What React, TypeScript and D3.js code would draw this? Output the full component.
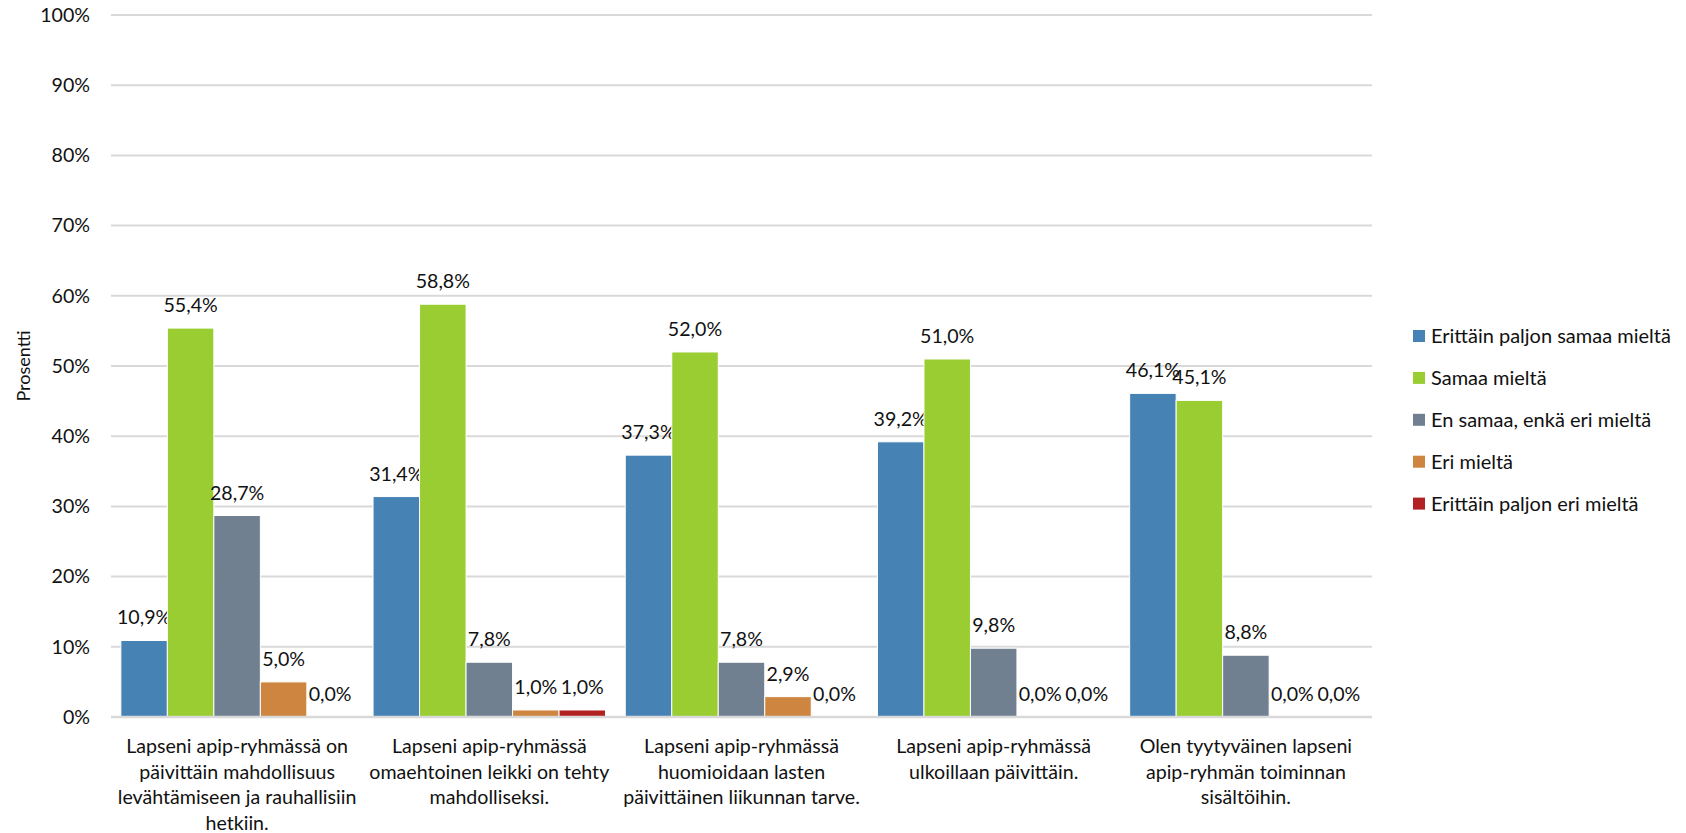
import React from 'react';
import * as d3 from 'd3';

// Statements (already wrapped as in the source chart)
const categories: string[][] = [
  ['Lapseni apip-ryhmässä on', 'päivittäin mahdollisuus', 'levähtämiseen ja rauhallisiin', 'hetkiin.'],
  ['Lapseni apip-ryhmässä', 'omaehtoinen leikki on tehty', 'mahdolliseksi.'],
  ['Lapseni apip-ryhmässä', 'huomioidaan lasten', 'päivittäinen liikunnan tarve.'],
  ['Lapseni apip-ryhmässä', 'ulkoillaan päivittäin.'],
  ['Olen tyytyväinen lapseni', 'apip-ryhmän toiminnan', 'sisältöihin.'],
];

const seriesNames = [
  'Erittäin paljon samaa mieltä',
  'Samaa mieltä',
  'En samaa, enkä eri mieltä',
  'Eri mieltä',
  'Erittäin paljon eri mieltä',
];

const seriesColors = ['#4682b4', '#9acd32', '#708090', '#cd853f', '#b22222'];

const veryAgree = [10.9, 31.4, 37.3, 39.2, 46.1];
const agree = [55.4, 58.8, 52.0, 51.0, 45.1];
const neutral = [28.7, 7.8, 7.8, 9.8, 8.8];
const disagree = [5.0, 1.0, 2.9, 0.0, 0.0];
const veryDisagree = [0.0, 1.0, 0.0, 0.0, 0.0];

const seriesValues = [veryAgree, agree, neutral, disagree, veryDisagree];

const yTicks = [0, 10, 20, 30, 40, 50, 60, 70, 80, 90, 100];

const WIDTH = 1686;
const HEIGHT = 833;
const FONT = 'Lato, "Open Sans", sans-serif';
const TEXT = '#111';

// pick a font size so a sample string gets the width it has in the original (Calibri) chart
const fitSize = (sample: string, targetWidth: number, fallback: number) => {
  const ctx = document.createElement('canvas').getContext('2d');
  if (!ctx) return fallback;
  ctx.font = `20px ${FONT}`;
  const w = ctx.measureText(sample).width;
  return w > 0 ? Math.min(24, Math.max(16, 20 * targetWidth / w)) : fallback;
};

export default function App() {
  const FS = fitSize('Lapseni apip-ryhmässä on', 222, 20.5);
  const FS_LEGEND = fitSize('Erittäin paljon samaa mieltä', 240, 20.5);

  const margin = { left: 111, right: WIDTH - 1372, top: 15, bottom: HEIGHT - 717 };

  const x0 = d3.scaleBand<number>()
    .domain(d3.range(categories.length))
    .range([margin.left, WIDTH - margin.right])
    .paddingInner(0)
    .paddingOuter(0);

  const x1 = d3.scaleBand<number>()
    .domain(d3.range(seriesNames.length))
    .range([0, x0.bandwidth()])
    .paddingInner(0)
    .paddingOuter(0.212);

  const y = d3.scaleLinear()
    .domain([0, 100])
    .range([HEIGHT - margin.bottom, margin.top]);

  const fmt = (v: number) => v.toFixed(1).replace('.', ',') + '%';

  const legendX = 1413;
  const legendY = d3.scaleLinear().domain([0, 1]).range([336, 377.9]);

  return (
    <div style={{ position: 'fixed', left: 0, top: 0 }}>
      <svg width={WIDTH} height={HEIGHT} style={{ display: 'block', background: '#fff' }} fontFamily={FONT}>
        {/* grid lines */}
        <g>
          {yTicks.map(t => (
            <line key={t} x1={margin.left} x2={WIDTH - margin.right} y1={y(t)} y2={y(t)}
              stroke="#d9d9d9" strokeWidth={2} />
          ))}
        </g>

        {/* y tick labels */}
        <g>
          {yTicks.map(t => (
            <text key={t} x={90} y={y(t)} dy="0.35em" textAnchor="end" fontSize={FS} fill={TEXT}>
              {t}%
            </text>
          ))}
        </g>

        {/* y axis title */}
        <text transform={`translate(24, ${(y(0) + y(100)) / 2}) rotate(-90)`} dy="0.35em"
          textAnchor="middle" fontSize={FS * 0.92} fill={TEXT}>
          Prosentti
        </text>

        {/* bars */}
        {categories.map((_, ci) => (
          <g key={ci} transform={`translate(${x0(ci)}, 0)`}>
            {seriesValues.map((vals, si) => {
              const v = vals[ci];
              const bx = x1(si)!;
              const bw = x1.bandwidth();
              return (
                <g key={si}>
                  {v > 0 && (
                    <rect x={bx} y={y(v)} width={bw} height={y(0) - y(v)}
                      fill={seriesColors[si]} stroke="#fff" strokeWidth={1} />
                  )}
                  <text x={bx + bw / 2} y={y(v) - 16} textAnchor="middle" fontSize={FS} fill={TEXT}>
                    {fmt(v)}
                  </text>
                </g>
              );
            })}
          </g>
        ))}

        {/* baseline */}
        <line x1={margin.left} x2={WIDTH - margin.right} y1={y(0)} y2={y(0)} stroke="#d9d9d9" strokeWidth={2.5} />

        {/* category labels */}
        {categories.map((lines, ci) => (
          <text key={ci} textAnchor="middle" fontSize={FS} fill={TEXT}>
            {lines.map((ln, li) => (
              <tspan key={li} x={x0(ci)! + x0.bandwidth() / 2} y={753 + li * 25.7}>{ln}</tspan>
            ))}
          </text>
        ))}

        {/* legend */}
        {seriesNames.map((name, i) => (
          <g key={name} transform={`translate(${legendX}, ${legendY(i)})`}>
            <rect x={0} y={-6} width={12} height={12} fill={seriesColors[i]} />
            <text x={18} y={0} dy="0.35em" fontSize={FS_LEGEND} fill={TEXT}>{name}</text>
          </g>
        ))}
      </svg>
    </div>
  );
}
